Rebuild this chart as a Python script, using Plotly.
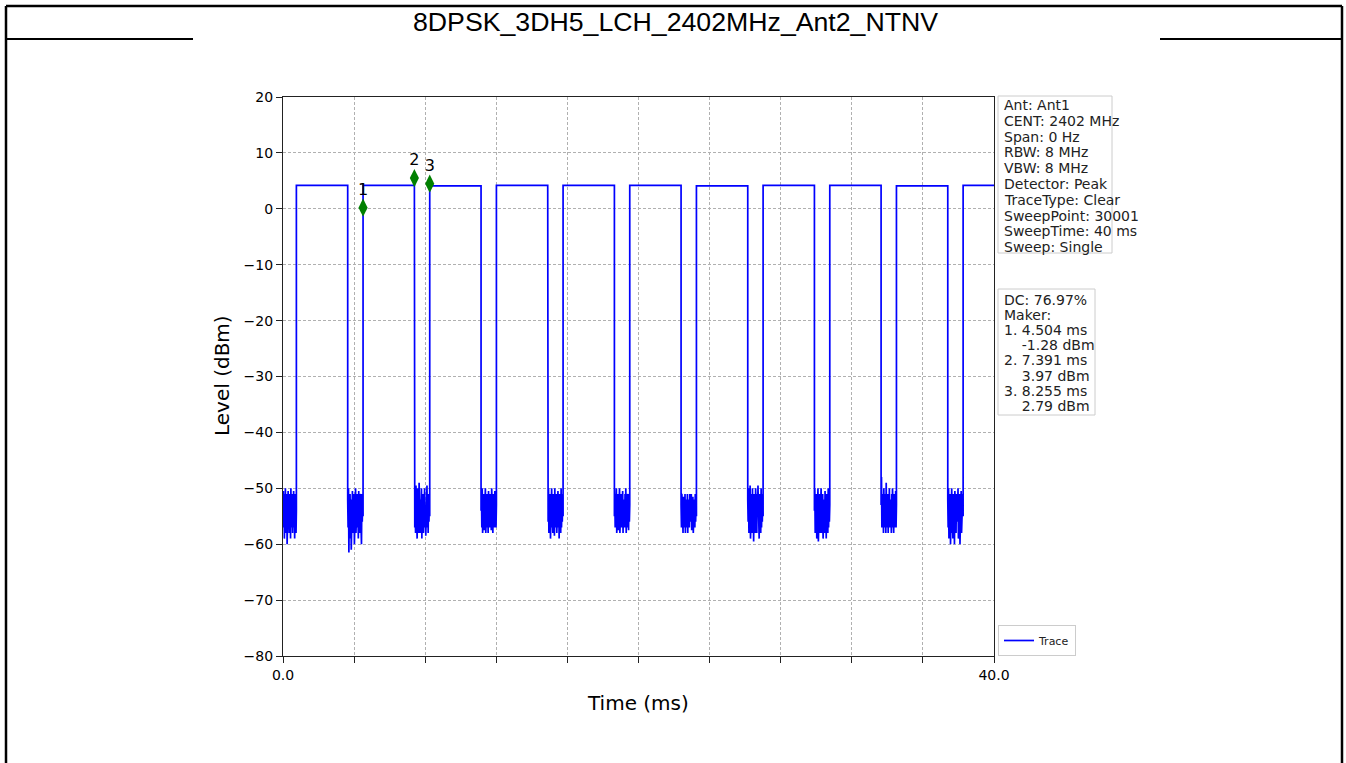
import plotly.graph_objects as go

# ---------------- data ----------------
title_text = "8DPSK_3DH5_LCH_2402MHz_Ant2_NTNV"

burst_start = [0.753, 4.504, 8.255, 12.006, 15.757, 19.508, 23.259, 27.010, 30.761, 34.512, 38.263]
burst_end = [3.640, 7.391, 11.142, 14.893, 18.644, 22.395, 26.146, 29.897, 33.648, 37.399, 40.0]
burst_level = [4.2, 4.2, 4.1, 4.2, 4.2, 4.2, 4.1, 4.2, 4.2, 4.1, 4.2]

# noise floor samples in each off period (dBm), one list before every burst
noise_gaps = [
    [-54, -50.5, -57, -51, -59, -52, -56, -50, -58, -53, -55, -51, -60, -52, -57, -50.5, -56, -53, -58, -51, -55, -52, -59, -50, -57, -53, -56, -51, -58, -52, -55, -50.5, -57, -53, -59, -51, -56, -52, -58, -54],
    [-52, -57, -50, -61.5, -53, -56, -51, -59, -52, -61, -54, -57, -50.5, -58, -52, -56, -51, -60, -53, -57, -50, -58, -52, -56, -51, -57, -53, -59, -50.5, -56, -52, -58, -51, -57, -53, -60, -51, -56, -52, -55],
    [-53, -57, -51, -58, -49.5, -56, -52, -59, -50, -57, -53, -58, -49, -56, -51, -58, -52, -57, -50, -59, -53, -56, -51, -58, -52, -55, -50, -57, -53, -58.5, -51, -56, -49.5, -57, -52, -58, -51, -56, -53, -55],
    [-54, -51, -57, -50, -58, -52, -56, -51, -57.5, -53, -55, -50, -58, -52, -56, -51, -57, -53, -58, -50.5, -56, -52, -57, -51, -55, -53, -57.5, -50, -56, -52, -58, -51, -56, -53, -57, -50.5, -55, -52, -57, -53],
    [-52, -56, -50, -58, -53, -57, -51, -59, -52, -56, -50, -57, -53, -58, -51, -56, -52, -58.5, -50, -57, -53, -56, -51, -58, -52, -55, -50.5, -57, -53, -59, -51, -56, -52, -58, -50, -57, -53, -56, -51, -55],
    [-55, -51, -57, -52, -56, -50, -58, -53, -56, -51, -57.5, -52, -55, -50, -58, -53, -56, -51, -57, -52, -56, -50.5, -58, -52, -55, -53, -57, -51, -56, -50, -58, -52, -57, -51, -55, -53, -57.5, -51, -56, -53],
    [-53, -57, -51, -56, -52, -58, -51.5, -56, -53, -57, -51, -58, -52, -56, -53, -57, -51, -58, -52, -56, -52.5, -57, -51, -56, -53, -55, -51, -57.5, -52, -56, -51.5, -58, -53, -56, -52, -57, -51, -56, -53, -55],
    [-52, -56, -50, -58, -52, -57, -49.5, -59, -53, -56, -51, -58, -50, -57, -52, -59.5, -51, -56, -53, -58, -50, -57, -52, -58, -51, -55, -49.5, -57, -53, -59, -51, -56, -52, -58, -50, -57, -53, -56, -51, -55],
    [-54, -50, -58, -52, -57, -51, -59, -53, -56, -50, -59.5, -52, -57, -51, -58, -53, -56, -50, -58, -52, -57, -51, -59, -53, -56, -52, -58, -50.5, -57, -52, -59, -51, -56, -53, -58, -50, -57, -52, -56, -53],
    [-53, -48, -57, -51, -56, -52, -58, -50, -57, -53, -56, -51, -58, -49, -56, -52, -57, -51, -58, -53, -56, -50, -57, -52, -56, -53, -58, -51, -57, -50, -56, -52, -58, -51, -57, -53, -56, -50.5, -57, -53],
    [-52, -57, -50, -59, -53, -56, -51, -60, -52, -57, -50, -58, -53, -59, -51, -56, -52, -60, -50.5, -57, -53, -58, -51, -56, -52, -55, -50, -59, -53, -57, -51, -60, -52, -56, -50.5, -58, -53, -57, -51, -55],
]

marker_ids = ["1", "2", "3"]
marker_time = [4.504, 7.391, 8.255]
marker_plot_level = [0.2, 5.5, 4.5]      # where the diamonds sit in the picture
marker_read_level = [-1.28, 3.97, 2.79]  # values listed in the box

info_keys = ["Ant", "CENT", "Span", "RBW", "VBW", "Detector", "TraceType", "SweepPoint", "SweepTime", "Sweep"]
info_vals = ["Ant1", "2402 MHz", "0 Hz", "8 MHz", "8 MHz", "Peak", "Clear", "30001", "40 ms", "Single"]
duty_cycle = "76.97%"

y_ticks = [-80, -70, -60, -50, -40, -30, -20, -10, 0, 10, 20]
x_ticks = [0, 4, 8, 12, 16, 20, 24, 28, 32, 36, 40]
x_ticklabels = ["0.0", "", "", "", "", "", "", "", "", "", "40.0"]

# ---------------- build trace ----------------
t, lv = [], []
prev_end = 0.0
for i, (s, e, lev) in enumerate(zip(burst_start, burst_end, burst_level)):
    g = noise_gaps[i]
    n = len(g)
    span = s - prev_end
    for k, v in enumerate(g):
        t.append(prev_end + span * k / (n - 1))
        lv.append(v)
    t += [s, e]
    lv += [lev, lev]
    prev_end = e

# ---------------- pixel helpers for layout decorations ----------------
L, R, T, B = 283, 994, 97, 656
W, H = 1346, 763
def fx(px):
    return (px - L) / (R - L)
def fy(py):
    return (B - py) / (B - T)

FONT = "DejaVu Sans"

fig = go.Figure()
fig.add_trace(go.Scatter(x=t, y=lv, mode="lines", name="Trace",
                         line=dict(color="#0000ff", width=1.7)))
fig.add_trace(go.Scatter(x=marker_time, y=marker_plot_level, mode="markers+text",
                         text=marker_ids, textposition="top center",
                         textfont=dict(family=FONT, size=16, color="black"),
                         marker=dict(symbol="diamond-tall", size=13, color="#008000"),
                         showlegend=False, cliponaxis=False))

neg = lambda v: str(v).replace("-", "\u2212")

axis_common = dict(showgrid=True, gridcolor="#b0b0b0", griddash="3px,2px", gridwidth=0.8,
                   showline=True, mirror=True, linecolor="#222", linewidth=1.3,
                   ticks="outside", ticklen=6, tickcolor="#222", zeroline=False,
                   tickfont=dict(family=FONT, size=14, color="black"))
fig.update_xaxes(range=[0, 40], tickvals=x_ticks, ticktext=x_ticklabels, **axis_common)
fig.update_yaxes(range=[-80, 20], tickvals=y_ticks, ticktext=[neg(v) for v in y_ticks], **axis_common)

info1_lines = [f"{k}: {v}" for k, v in zip(info_keys, info_vals)]
info2_lines = [f"DC: {duty_cycle}", "Maker:"]
for mid, mt, ml in zip(marker_ids, marker_time, marker_read_level):
    info2_lines.append(f"{mid}. {mt:.3f} ms")
    info2_lines.append("\u00a0\u00a0\u00a0\u00a0" + f"{ml:.2f} dBm")

annotations = [
    dict(text=title_text, x=fx(675), y=fy(22), xref="paper", yref="paper",
         showarrow=False, font=dict(family="Liberation Sans", size=26.7, color="black"),
         xanchor="center", yanchor="middle"),
    dict(text="Level (dBm)", x=fx(222), y=fy(376), xref="paper", yref="paper",
         showarrow=False, textangle=-90, font=dict(family=FONT, size=20, color="black"),
         xanchor="center", yanchor="middle"),
    dict(text="Time (ms)", x=fx(638), y=fy(703), xref="paper", yref="paper",
         showarrow=False, font=dict(family=FONT, size=20, color="black"),
         xanchor="center", yanchor="middle"),
]
for i, line in enumerate(info1_lines):
    annotations.append(dict(text=line, x=fx(1002), y=fy(105 + 15.8 * i), xref="paper", yref="paper",
                            showarrow=False, xanchor="left", yanchor="middle",
                            font=dict(family=FONT, size=14, color="#222")))
for i, line in enumerate(info2_lines):
    annotations.append(dict(text=line, x=fx(1002), y=fy(300 + 15.1 * i), xref="paper", yref="paper",
                            showarrow=False, xanchor="left", yanchor="middle",
                            font=dict(family=FONT, size=14, color="#222")))

shapes = [
    dict(type="rect", xref="paper", yref="paper", x0=fx(998), x1=fx(1112), y0=fy(96), y1=fy(253),
         line=dict(color="#cccccc", width=1), fillcolor="white"),
    dict(type="rect", xref="paper", yref="paper", x0=fx(998), x1=fx(1095), y0=fy(289), y1=fy(415),
         line=dict(color="#cccccc", width=1), fillcolor="white"),
    dict(type="line", xref="paper", yref="paper", x0=fx(6), x1=fx(6), y0=fy(6), y1=fy(780),
         line=dict(color="black", width=2.5)),
    dict(type="line", xref="paper", yref="paper", x0=fx(1342), x1=fx(1342), y0=fy(6), y1=fy(780),
         line=dict(color="black", width=2.5)),
    dict(type="line", xref="paper", yref="paper", x0=fx(6), x1=fx(1342), y0=fy(6), y1=fy(6),
         line=dict(color="black", width=2.5)),
    dict(type="line", xref="paper", yref="paper", x0=fx(6), x1=fx(193), y0=fy(39), y1=fy(39),
         line=dict(color="black", width=2)),
    dict(type="line", xref="paper", yref="paper", x0=fx(1160), x1=fx(1342), y0=fy(39), y1=fy(39),
         line=dict(color="black", width=2)),
]

fig.update_layout(
    width=W, height=H,
    margin=dict(l=L, r=W - R, t=T, b=H - B, pad=0),
    paper_bgcolor="white", plot_bgcolor="white",
    annotations=annotations, shapes=shapes,
    showlegend=True,
    legend=dict(x=fx(998), y=0, xanchor="left", yanchor="bottom",
                bgcolor="white", bordercolor="#cccccc", borderwidth=1,
                font=dict(family=FONT, size=11, color="#222"),
                itemwidth=30, tracegroupgap=0),
    font=dict(family=FONT),
)

fig.write_html("out.html", config={"displayModeBar": False},
               post_script="document.body.style.margin='0px';document.body.style.overflow='hidden';")
